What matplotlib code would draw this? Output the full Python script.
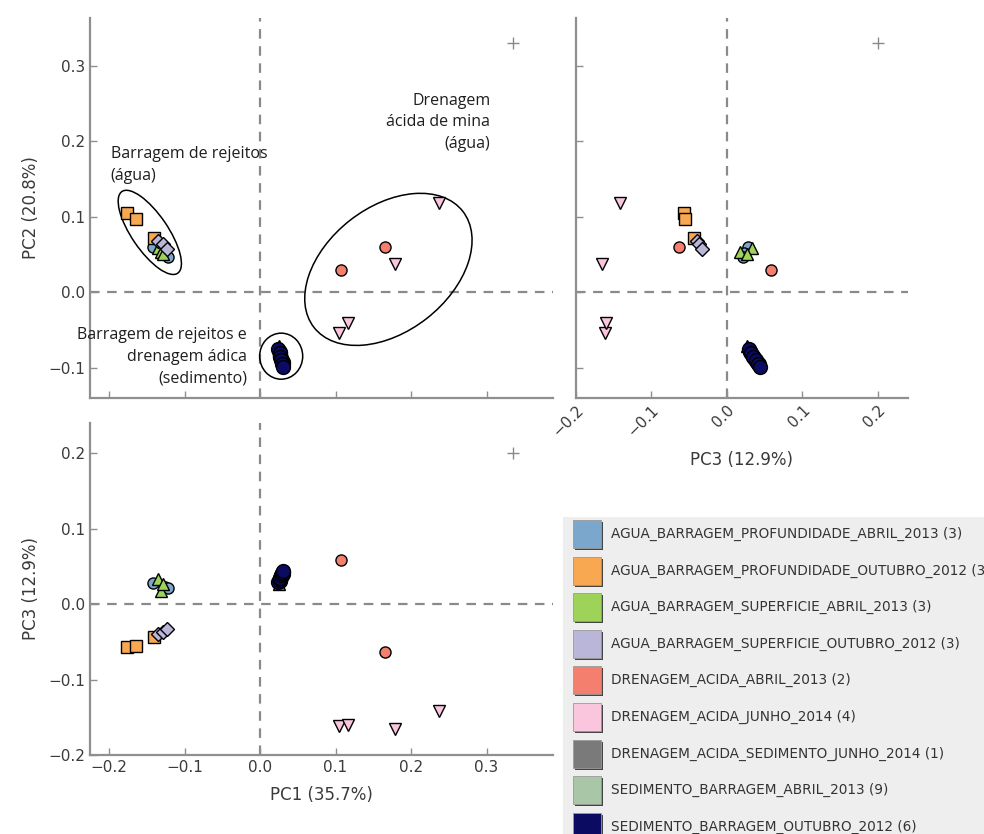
import numpy as np
import matplotlib
matplotlib.use("Agg")
import matplotlib.pyplot as plt
from matplotlib.patches import Ellipse, Rectangle

# sample groups, point counts and PCA scores (PC1, PC2, PC3)
groups = [
    "AGUA_BARRAGEM_PROFUNDIDADE_ABRIL_2013",
    "AGUA_BARRAGEM_PROFUNDIDADE_OUTUBRO_2012",
    "AGUA_BARRAGEM_SUPERFICIE_ABRIL_2013",
    "AGUA_BARRAGEM_SUPERFICIE_OUTUBRO_2012",
    "DRENAGEM_ACIDA_ABRIL_2013",
    "DRENAGEM_ACIDA_JUNHO_2014",
    "DRENAGEM_ACIDA_SEDIMENTO_JUNHO_2014",
    "SEDIMENTO_BARRAGEM_ABRIL_2013",
    "SEDIMENTO_BARRAGEM_OUTUBRO_2012",
]
counts = [3, 3, 3, 3, 2, 4, 1, 9, 6]

pc1 = [
    [-0.142, -0.126, -0.122],
    [-0.176, -0.164, -0.141],
    [-0.135, -0.131, -0.129],
    [-0.135, -0.129, -0.123],
    [0.107, 0.166],
    [0.105, 0.116, 0.179, 0.237],
    [0.025],
    [0.025, 0.026, 0.027, 0.027, 0.028, 0.028, 0.029, 0.030, 0.030],
    [0.024, 0.026, 0.027, 0.028, 0.029, 0.031],
]
pc2 = [
    [0.060, 0.052, 0.047],
    [0.105, 0.097, 0.072],
    [0.058, 0.053, 0.050],
    [0.068, 0.063, 0.057],
    [0.029, 0.059],
    [-0.054, -0.041, 0.037, 0.118],
    [-0.072],
    [-0.078, -0.080, -0.083, -0.085, -0.087, -0.089, -0.091, -0.093, -0.096],
    [-0.076, -0.081, -0.086, -0.090, -0.095, -0.099],
]
pc3 = [
    [0.028, 0.023, 0.021],
    [-0.057, -0.055, -0.044],
    [0.033, 0.018, 0.026],
    [-0.040, -0.037, -0.033],
    [0.058, -0.064],
    [-0.161, -0.160, -0.165, -0.142],
    [0.027],
    [0.030, 0.031, 0.033, 0.034, 0.036, 0.037, 0.039, 0.040, 0.042],
    [0.029, 0.032, 0.035, 0.038, 0.041, 0.044],
]

# reference point shown as a grey cross in every panel
ref_point = (0.335, 0.33, 0.20)

axis_labels = ["PC1 (35.7%)", "PC2 (20.8%)", "PC3 (12.9%)"]

colors = ["#7ba7cc", "#f8a850", "#9ed35a", "#b9b6d9", "#f47f6e",
          "#f9c6de", "#7a7a7a", "#a9c6a6", "#0b0b62"]
markers = ["o", "s", "^", "D", "o", "v", "^", "o", "o"]
msizes = [8, 8, 8.5, 7, 8, 8.5, 8, 10, 10]

W, H = 984, 834
fig = plt.figure(figsize=(W / 100, H / 100), dpi=100)


def px_axes(left, top, right, bottom):
    return fig.add_axes([left / W, 1 - bottom / H, (right - left) / W, (bottom - top) / H])


ax_12 = px_axes(90, 18, 553, 398)
ax_32 = px_axes(576, 18, 908, 398)
ax_13 = px_axes(90, 423, 553, 755)

xlim_pc1 = (-0.2252, 0.388)
ylim_pc2 = (-0.1404, 0.363)
xlim_pc3 = (-0.2, 0.24)
ylim_pc3 = (-0.2, 0.24)

spine_col = "#8f8f8f"
text_col = "#3a3a3a"


def style(ax, xlim, ylim, xticks, yticks, xlab, ylab, rot=0):
    ax.set_xlim(*xlim)
    ax.set_ylim(*ylim)
    for s in ("top", "right"):
        ax.spines[s].set_visible(False)
    for s in ("left", "bottom"):
        ax.spines[s].set_color(spine_col)
        ax.spines[s].set_linewidth(1.6)
    ax.set_xticks(xticks)
    ax.set_yticks(yticks)
    ax.tick_params(direction="in", length=5, width=1, color=spine_col,
                   labelsize=11, labelcolor=text_col)
    if not xlab:
        ax.set_xticklabels([])
    if not ylab:
        ax.set_yticklabels([])
    if rot:
        for t in ax.get_xticklabels():
            t.set_rotation(rot)
            t.set_ha("right")
            t.set_va("top")
            t.set_rotation_mode("anchor")
    if xlab:
        ax.set_xlabel(xlab, fontsize=12, color=text_col, labelpad=8)
    if ylab:
        ax.set_ylabel(ylab, fontsize=12, color=text_col, labelpad=6)
    ax.axhline(0, color="#8a8a8a", lw=1.6, ls=(0, (4.3, 3.4)), zorder=1)
    ax.axvline(0, color="#8a8a8a", lw=1.6, ls=(0, (4.3, 3.4)), zorder=1)


ticks = np.round(np.arange(-0.2, 0.31, 0.1), 1)
style(ax_12, xlim_pc1, ylim_pc2, ticks, ticks[1:], None, axis_labels[1])
style(ax_32, xlim_pc3, ylim_pc2, ticks[:-1], ticks[1:], axis_labels[2], None, rot=45)
style(ax_13, xlim_pc1, ylim_pc3, ticks, ticks[:-1], axis_labels[0], axis_labels[2])


def scatter(ax, xs, ys, xr, yr):
    for i in range(len(groups)):
        ax.plot(xs[i], ys[i], ls="none", marker=markers[i], ms=msizes[i],
                mfc=colors[i], mec="black", mew=1.0, zorder=3 + i)
    ax.plot(xr, yr, ls="none", marker="+", ms=9, mew=1.0, color="#8a8a8a")


scatter(ax_12, pc1, pc2, ref_point[0], ref_point[1])
scatter(ax_32, pc3, pc2, ref_point[2], ref_point[1])
scatter(ax_13, pc1, pc3, ref_point[0], ref_point[2])

# group outlines in the PC1 x PC2 panel
ax_12.add_patch(Ellipse((-0.146, 0.079), 0.131, 0.048, angle=-55.7,
                        fill=False, ec="black", lw=1.1, zorder=2))
ax_12.add_patch(Ellipse((0.028, -0.085), 0.057, 0.061,
                        fill=False, ec="black", lw=1.1, zorder=2))
ax_12.add_patch(Ellipse((0.170, 0.030), 0.250, 0.165, angle=38,
                        fill=False, ec="black", lw=1.1, zorder=2))

note_font = dict(family="Open Sans", fontsize=11.5, color="#1e1e1e", linespacing=1.45)
ax_12.text(-0.198, 0.193, "Barragem de rejeitos\n(água)", ha="left", va="top", **note_font)
ax_12.text(0.305, 0.264, "Drenagem\nácida de mina\n(água)", ha="right", va="top", **note_font)
ax_12.text(-0.017, -0.047, "Barragem de rejeitos e\ndrenagem ádica\n(sedimento)",
           ha="right", va="top", **note_font)

# legend panel, cut off by the figure edge
fig.patches.append(Rectangle((563 / W, 0), 1, 1 - 517 / H, transform=fig.transFigure,
                             fc="#eeeeee", ec="none", zorder=0))
for i, name in enumerate(groups):
    yc = 534 + 36.6 * i
    x0, sz = 573, 28
    fig.patches.append(Rectangle(((x0 + 2) / W, 1 - (yc + sz / 2 + 2) / H), sz / W, sz / H,
                                 transform=fig.transFigure, fc="#444444", ec="none", zorder=1))
    fig.patches.append(Rectangle((x0 / W, 1 - (yc + sz / 2) / H), sz / W, sz / H,
                                 transform=fig.transFigure, fc=colors[i], ec="#9a9a9a",
                                 lw=0.6, zorder=2))
    fig.text(611 / W, 1 - yc / H, f"{name} ({counts[i]})", ha="left", va="center",
             fontsize=9.8, color="#333333", family="DejaVu Sans")

fig.savefig("out.png", dpi=100)
